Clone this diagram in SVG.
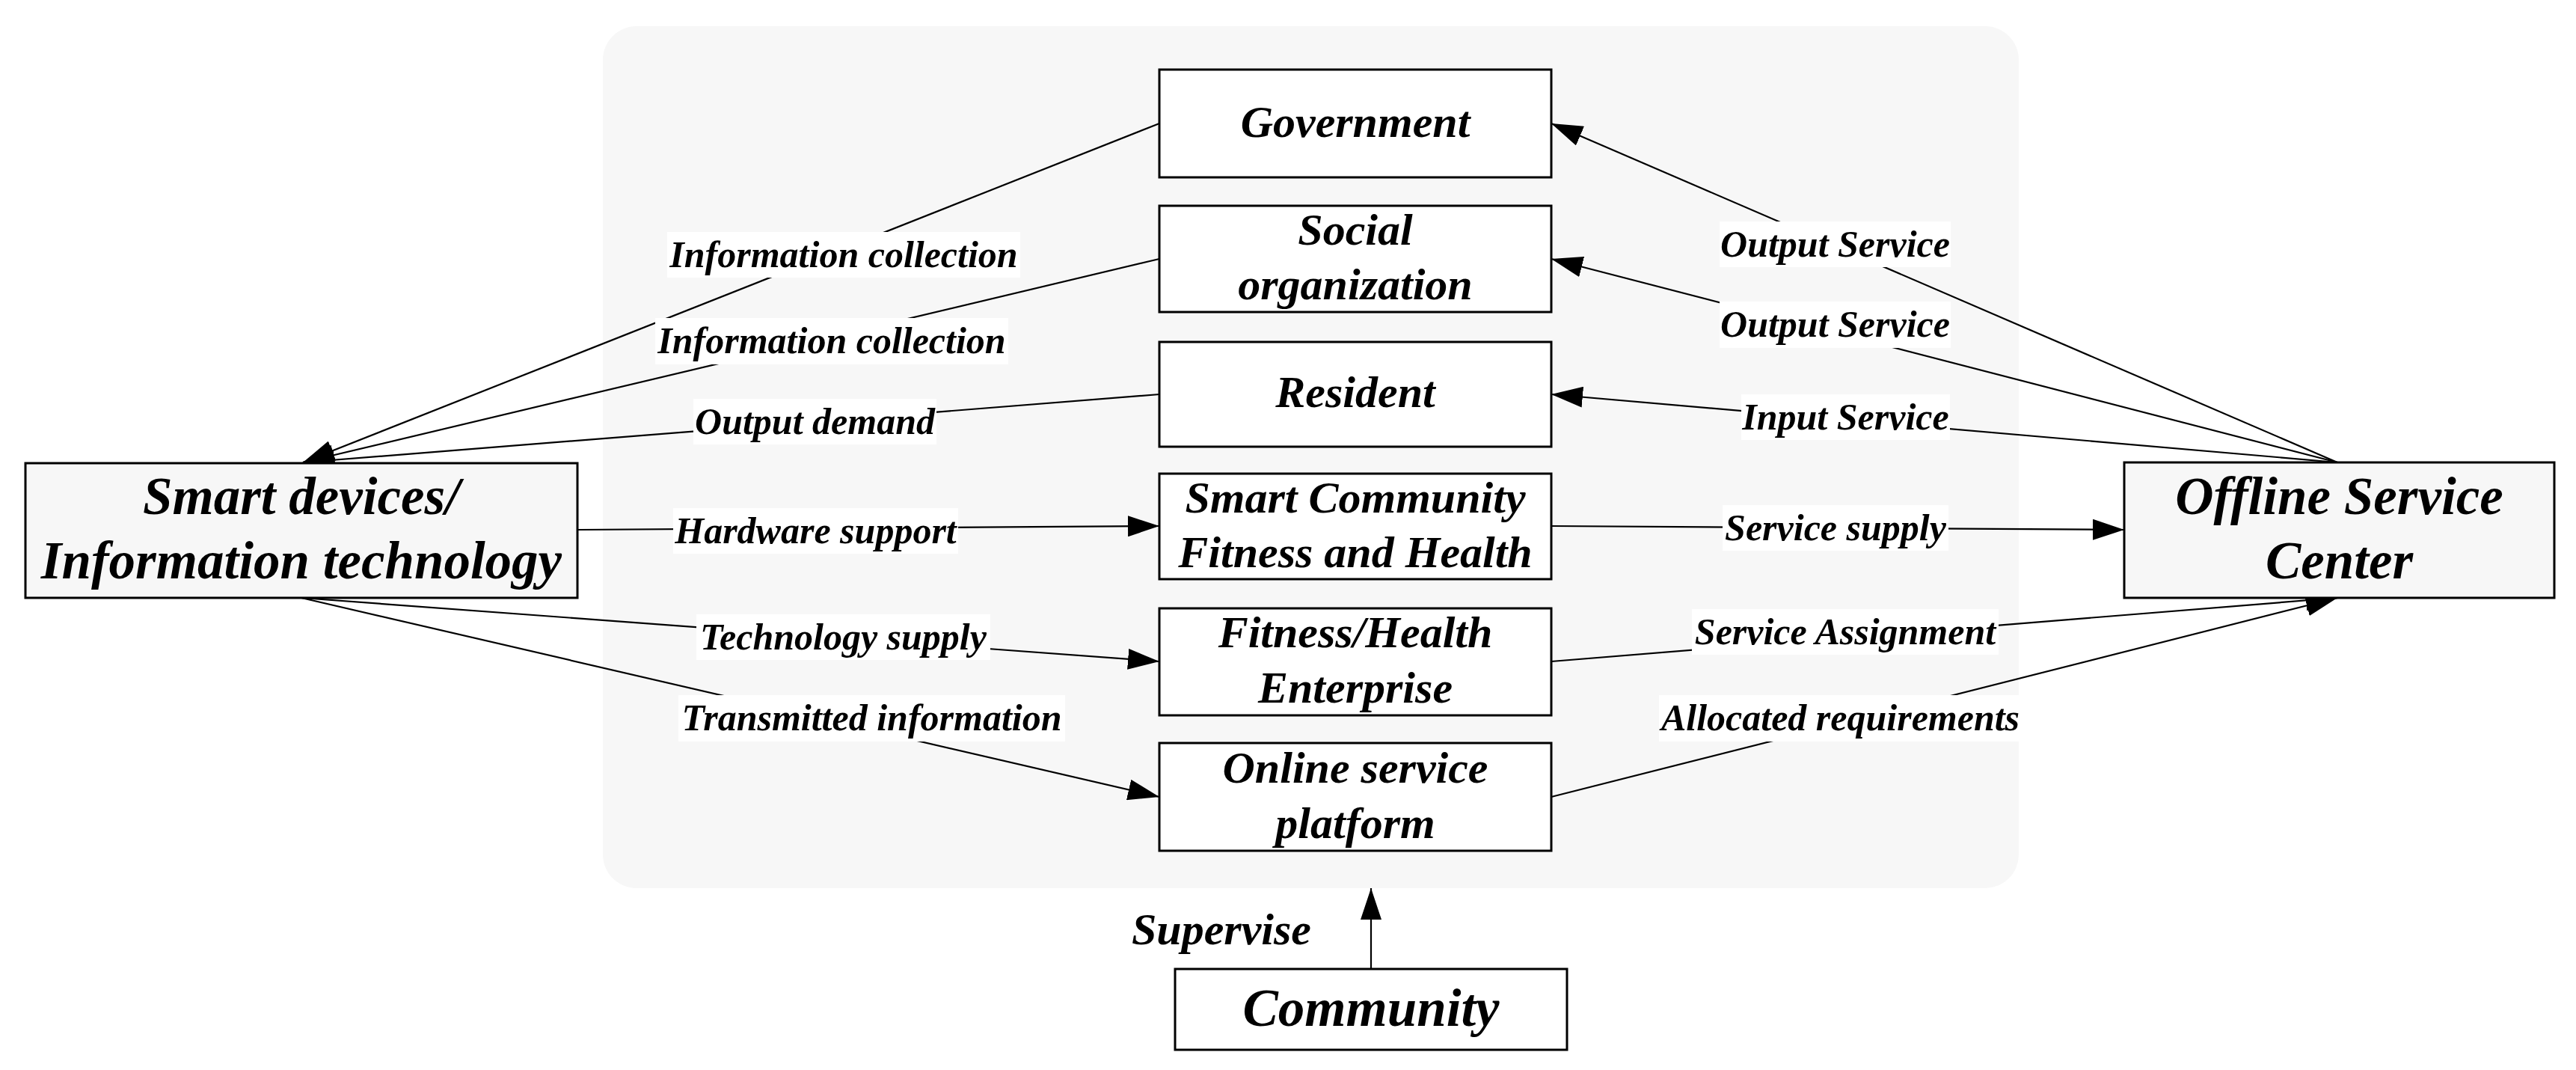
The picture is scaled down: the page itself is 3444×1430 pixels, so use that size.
<svg xmlns="http://www.w3.org/2000/svg" width="3444" height="1430" viewBox="0 0 3444 1430">
<defs>
<style>
.t{font-family:"Liberation Serif","Times New Roman",serif;font-weight:bold;font-style:italic;fill:#000;text-anchor:middle}
.big{font-size:71px}
.mid{font-size:60px}
.lbl{font-size:50px}
.box{fill:#fff;stroke:#000;stroke-width:3}
.gbox{fill:#f7f7f7;stroke:#000;stroke-width:3}
.ln{stroke:#000;stroke-width:2.2;fill:none}
.lb{fill:#fff}
</style>
<marker id="ah" markerUnits="userSpaceOnUse" markerWidth="42" markerHeight="28" refX="42" refY="14" orient="auto" viewBox="0 0 42 28">
<path d="M0,0 L42,14 L0,28 Z" fill="#000"/>
</marker>
</defs>
<rect width="3444" height="1430" fill="#fff"/>
<rect id="panel" x="806" y="35" width="1893" height="1152" rx="45" ry="45" fill="#f7f7f7"/>

<g id="connectors">
<path class="ln" d="M1550,165 L405,618" marker-end="url(#ah)"/>
<path class="ln" d="M1550,346 L405,618" marker-end="url(#ah)"/>
<path class="ln" d="M1550,527 L405,618" marker-end="url(#ah)"/>
<path class="ln" d="M772,708 L1550,703" marker-end="url(#ah)"/>
<path class="ln" d="M403,799 L1550,884" marker-end="url(#ah)"/>
<path class="ln" d="M403,799 L1550,1065" marker-end="url(#ah)"/>
<path class="ln" d="M3125,618 L2074,165" marker-end="url(#ah)"/>
<path class="ln" d="M3125,618 L2074,346" marker-end="url(#ah)"/>
<path class="ln" d="M3125,618 L2074,527" marker-end="url(#ah)"/>
<path class="ln" d="M2074,703 L2840,708" marker-end="url(#ah)"/>
<path class="ln" d="M2074,884 L3125,799" marker-end="url(#ah)"/>
<path class="ln" d="M2074,1065 L3125,799" marker-end="url(#ah)"/>
<path class="ln" d="M1833,1295 L1833,1187" marker-end="url(#ah)"/>

<rect class="lb" x="892" y="310" width="472" height="61"/>
<text class="t lbl" x="1128" y="357">Information collection</text>
<rect class="lb" x="876" y="425" width="472" height="62"/>
<text class="t lbl" x="1112" y="472">Information collection</text>
<rect class="lb" x="927" y="533" width="325" height="61"/>
<text class="t lbl" x="1089.5" y="580">Output demand</text>
<rect class="lb" x="900" y="679" width="381" height="61"/>
<text class="t lbl" x="1090.5" y="726">Hardware support</text>
<rect class="lb" x="931" y="821" width="393" height="61"/>
<text class="t lbl" x="1127.5" y="868">Technology supply</text>
<rect class="lb" x="907" y="929" width="517" height="62"/>
<text class="t lbl" x="1165.5" y="976">Transmitted information</text>

<rect class="lb" x="2299" y="296" width="309" height="61"/>
<text class="t lbl" x="2453.5" y="343">Output Service</text>
<rect class="lb" x="2299" y="403" width="309" height="62"/>
<text class="t lbl" x="2453.5" y="450">Output Service</text>
<rect class="lb" x="2328" y="527" width="279" height="61"/>
<text class="t lbl" x="2467.5" y="574">Input Service</text>
<rect class="lb" x="2303" y="675" width="302" height="61"/>
<text class="t lbl" x="2454" y="722">Service supply</text>
<rect class="lb" x="2262" y="814" width="410" height="61"/>
<text class="t lbl" x="2467" y="861">Service Assignment</text>
<rect class="lb" x="2218" y="929" width="485" height="62"/>
<text class="t lbl" x="2460.5" y="976">Allocated requirements</text>

<text class="t mid" x="1753" y="1262" style="text-anchor:end">Supervise</text>
</g>

<g id="government">
<rect class="box" x="1550" y="93" width="524" height="144"/>
<text class="t mid" x="1812" y="183">Government</text>
</g>
<g id="social-organization">
<rect class="box" x="1550" y="275" width="524" height="142"/>
<text class="t mid" x="1812" y="327">Social</text>
<text class="t mid" x="1812" y="400">organization</text>
</g>
<g id="resident">
<rect class="box" x="1550" y="457" width="524" height="140"/>
<text class="t mid" x="1812" y="544">Resident</text>
</g>
<g id="smart-community">
<rect class="box" x="1550" y="633" width="524" height="141"/>
<text class="t mid" x="1812" y="685">Smart Community</text>
<text class="t mid" x="1812" y="758">Fitness and Health</text>
</g>
<g id="fitness-enterprise">
<rect class="box" x="1550" y="813" width="524" height="143"/>
<text class="t mid" x="1812" y="865">Fitness/Health</text>
<text class="t mid" x="1812" y="939">Enterprise</text>
</g>
<g id="online-platform">
<rect class="box" x="1550" y="993" width="524" height="144"/>
<text class="t mid" x="1812" y="1046">Online service</text>
<text class="t mid" x="1812" y="1120">platform</text>
</g>
<g id="smart-devices">
<rect class="gbox" x="34" y="619" width="738" height="180"/>
<text class="t big" x="403" y="687">Smart devices/</text>
<text class="t big" x="403" y="773">Information technology</text>
</g>
<g id="offline-center">
<rect class="gbox" x="2840" y="618" width="575" height="181"/>
<text class="t big" x="3127.5" y="687">Offline Service</text>
<text class="t big" x="3127.5" y="773">Center</text>
</g>
<g id="community">
<rect class="box" x="1571" y="1295" width="524" height="108"/>
<text class="t big" x="1833" y="1371">Community</text>
</g>
</svg>
